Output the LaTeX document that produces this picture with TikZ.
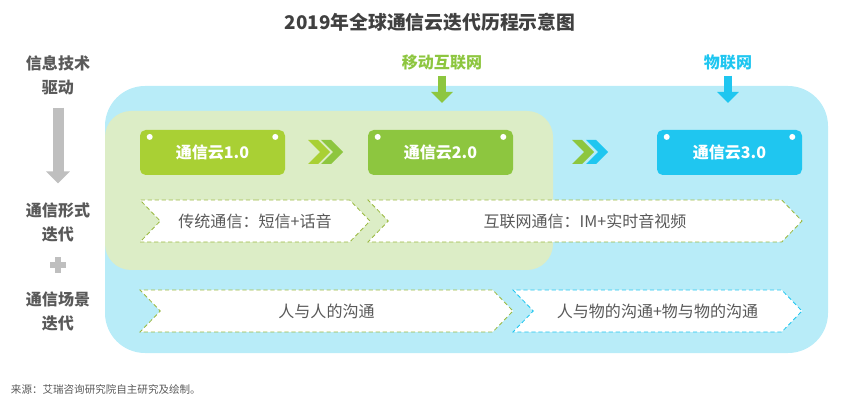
\documentclass[tikz,border=0pt]{standalone}
\usepackage{fontspec}
\setmainfont{Noto Sans CJK SC}
\usetikzlibrary{shapes.symbols,arrows.meta}
\definecolor{bgblue}{HTML}{B8ECF8}
\definecolor{bggreen}{HTML}{DCEDC6}
\definecolor{cloudA}{HTML}{A9D034}
\definecolor{cloudB}{HTML}{8DC63F}
\definecolor{cloudC}{HTML}{1FC6F0}
\definecolor{txtgray}{HTML}{595959}
\definecolor{arrgray}{HTML}{BFBFBF}
\begin{document}
\begin{tikzpicture}[
    cloud/.style={rectangle, rounded corners=4pt, minimum width=3.625cm,
                  minimum height=1.125cm, text=white,
                  font=\fontsize{11.4}{14}\selectfont\bfseries},
    band/.style={signal, signal from=west, signal to=east, signal pointer angle=92,
                 draw, dash pattern=on 3pt off 2pt, line width=0.6pt, fill=white,
                 minimum height=1.05cm, inner sep=0pt, text=txtgray,
                 font=\fontsize{11.4}{14}\selectfont},
    side/.style={align=center, text=txtgray, font=\fontsize{11.4}{17}\selectfont\bfseries},
    tech/.style={font=\fontsize{11.4}{14}\selectfont\bfseries},
    down/.style={line width=0.2cm, -{Triangle[length=0.275cm, width=0.525cm]}}
]
    \useasboundingbox (0,0) rectangle (21.5,10.1);

    \fill[bgblue, rounded corners=1cm] (2.625,1.275) rectangle (20.7,7.95);
    \fill[bggreen, rounded corners=0.65cm] (2.625,3.35) rectangle (13.825,7.325);

    \node[font=\fontsize{13.4}{16}\selectfont\bfseries, text=black!75] (title) at (10.75, 9.55) {2019年全球通信云迭代历程示意图};

    \node[side] (drive) at (1.45, 8.225) {信息技术\\驱动};
    \node[side] (form) at (1.45, 4.55) {通信形式\\迭代};
    \node[side] (scene) at (1.45, 2.325) {通信场景\\迭代};
    \draw[arrgray, line width=0.275cm, -{Triangle[length=0.3cm, width=0.575cm]},
          shorten <=0.2cm, shorten >=0.35cm] (drive) -- (form);
    \fill[arrgray] (1.25,3.41) rectangle (1.65,3.54);
    \fill[arrgray] (1.385,3.275) rectangle (1.515,3.675);

    \node[cloud, fill=cloudA] (c1) at (5.3125, 6.2875) {通信云1.0};
    \node[cloud, fill=cloudB] (c2) at (11.0125, 6.2875) {通信云2.0};
    \node[cloud, fill=cloudC] (c3) at (18.2375, 6.2875) {通信云3.0};
    \foreach \c in {c1,c2,c3} {
        \fill[white] (\c.north west) ++(0.25,-0.18) circle (0.075);
        \fill[white] (\c.north east) ++(-0.25,-0.18) circle (0.075);
    }
    \foreach \x/\col in {7.7/cloudA, 8.025/cloudB, 14.3/cloudB, 14.65/cloudC}
        \fill[\col] (\x,6.6) -- ++(0.25,0) -- ++(0.3,-0.3) -- ++(-0.3,-0.3)
            -- ++(-0.25,0) -- ++(0.3,0.3) -- cycle;

    \node[tech, text=cloudB] (mobile) at (11.05, 8.525) {移动互联网};
    \node[tech, text=cloudC] (iot) at (18.2, 8.525) {物联网};
    \coordinate (mobiletip) at (11.05, 7.525);
    \coordinate (iottip) at (18.2, 7.525);
    \draw[down, cloudB] (mobile.south) -- (mobiletip);
    \draw[down, cloudC] (iot.south) -- (iottip);

    \node[band, draw=cloudA!85!black!90, minimum width=5.75cm] (sms) at (6.375, 4.575) {传统通信：短信+话音};
    \node[band, draw=cloudA!85!black!90, minimum width=10.85cm] (im) at (14.625, 4.575) {互联网通信：IM+实时音视频};
    \node[band, draw=cloudA!85!black!90, minimum width=9.325cm] (p2p) at (8.1625, 2.325) {人与人的沟通};
    \node[band, draw=cloudC, minimum width=7.225cm] (p2t) at (16.4375, 2.325) {人与物的沟通+物与物的沟通};

    \node[anchor=west, text=txtgray, font=\fontsize{7.5}{9}\selectfont] (src) at (0.15, 0.35) {来源：艾瑞咨询研究院自主研究及绘制。};
\end{tikzpicture}
\end{document}
